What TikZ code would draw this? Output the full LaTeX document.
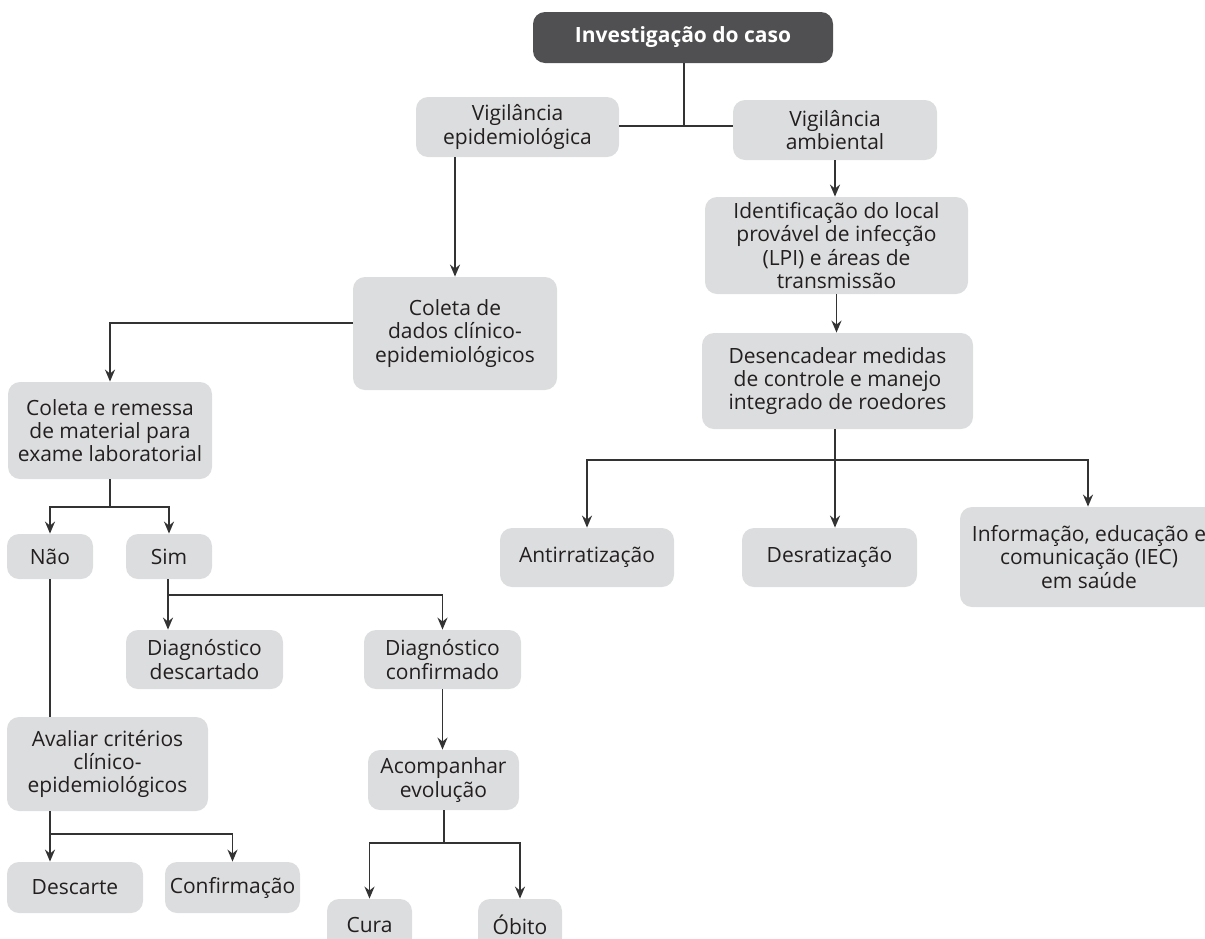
\documentclass[tikz,border=0pt]{standalone}
\usepackage{fontspec}
\setmainfont{Open Sans}
\usetikzlibrary{arrows.meta}
\definecolor{CaixaCinza}{HTML}{DCDDDE}
\definecolor{TituloCinza}{HTML}{505052}
\definecolor{LinhaCinza}{HTML}{333333}
\definecolor{TextoCinza}{HTML}{231F20}

\begin{document}
\begin{tikzpicture}[x=0.5pt,y=-0.5pt,
  caixa/.style={fill=CaixaCinza,rounded corners=6pt,align=center,inner sep=1pt,text=TextoCinza,font=\fontsize{10.5}{11.6}\selectfont},
  titulo/.style={caixa,fill=TituloCinza,text=white,font=\fontsize{10.5}{11.6}\selectfont\bfseries},
  tam/.style 2 args={minimum width=#1*0.5pt,minimum height=#2*0.5pt},
  linha/.style={line width=0.9pt,LinhaCinza},
  seta/.style={linha,-{Stealth[length=6pt,width=5pt]}}]
  \useasboundingbox (0,0) rectangle (1205,938);
  % topo e vigilancia ambiental
  \node[titulo,tam={300}{51}] (inv) at (683,37.5) {Investigação do caso};
  \node[caixa,tam={203}{60}] (vepi) at (517.5,127) {Vigilância\\epidemiológica};
  \node[caixa,tam={204}{60}] (vamb) at (835,130) {Vigilância\\ambiental};
  \node[caixa,tam={263}{97}] (ident) at (836.5,245.5) {Identificação do local\\provável de infecção\\(LPI) e áreas de\\transmissão};
  \node[caixa,tam={271}{96}] (desenc) at (837.5,381) {Desencadear medidas\\de controle e manejo\\integrado de roedores};
  \node[caixa,tam={174}{59}] (antirr) at (587,557.5) {Antirratização};
  \node[caixa,tam={175}{59}] (desrat) at (829.5,557.5) {Desratização};
  \node[caixa,tam={258}{100}] (iec) at (1089,557) {Informação, educação e\\comunicação (IEC)\\em saúde};
  % vigilancia epidemiologica
  \node[caixa,tam={204}{113}] (cdados) at (455,333.5) {Coleta de\\dados clínico-\\epidemiológicos};
  \node[caixa,tam={204}{97}] (crem) at (110,430.5) {Coleta e remessa\\de material para\\exame laboratorial};
  \node[caixa,tam={86}{45}] (nao) at (50,556.5) {Não};
  \node[caixa,tam={86}{45}] (sim) at (169,556.5) {Sim};
  \node[caixa,tam={157}{59}] (ddesc) at (204.5,659.5) {Diagnóstico\\descartado};
  \node[caixa,tam={157}{59}] (dconf) at (442.5,659.5) {Diagnóstico\\confirmado};
  \node[caixa,tam={151}{60}] (acomp) at (443.5,780) {Acompanhar\\evolução};
  \node[caixa,tam={85}{51}] (cura) at (369.5,924.5) {Cura};
  \node[caixa,tam={84}{51}] (obito) at (520,924.5) {Óbito};
  \node[caixa,tam={201}{94}] (aval) at (107.5,764) {Avaliar critérios\\clínico-\\epidemiológicos};
  \node[caixa,tam={136}{51}] (descarte) at (75,887.5) {Descarte};
  \node[caixa,tam={135}{51}] (confirm) at (232.5,887.5) {Confirmação};
  % ligacoes
  \coordinate (j0) at (684,126);
  \draw[linha] (inv.south -| j0) -- (j0);
  \draw[linha] (vepi.east |- j0) -- (vamb.west |- j0);
  \draw[seta] (cdados.north |- vepi.south) -- (cdados.north);
  \draw[seta] (vamb.south) -- (vamb.south |- ident.north);
  \draw[seta] (ident.south) -- (ident.south |- desenc.north);
  \coordinate (j1) at (835,460);
  \coordinate (j1d) at (1088,460);
  \draw[linha] (desenc.south -| j1) -- (j1);
  \draw[seta] (j1) -- (j1 |- desrat.north);
  \draw[seta] (j1) -| (antirr.north);
  \draw[seta] (j1) -- (j1d) -- (j1d |- iec.north);
  \coordinate (j2) at (110,323);
  \draw[seta] (cdados.west |- j2) -- (j2) -- (j2 |- crem.north);
  \coordinate (j3) at (110,507);
  \draw[linha] (crem.south) -- (j3);
  \draw[seta] (j3) -| (nao.north);
  \draw[seta] (j3) -| (sim.north);
  \coordinate (j4) at (168,595);
  \draw[linha] (sim.south -| j4) -- (j4);
  \draw[seta] (j4) -- (j4 |- ddesc.north);
  \draw[seta] (j4) -| (dconf.north);
  \draw[seta] (dconf.south) -- (dconf.south |- acomp.north);
  \coordinate (j5) at (444,843);
  \draw[linha] (acomp.south -| j5) -- (j5);
  \draw[seta] (j5) -| (cura.north);
  \draw[seta] (j5) -| (obito.north);
  \draw[linha] (nao.south) -- (nao.south |- aval.north);
  \coordinate (j6) at (50,834);
  \draw[linha] (aval.south -| j6) -- (j6);
  \draw[seta] (j6) -- (j6 |- descarte.north);
  \draw[seta] (j6) -| (confirm.north);
\end{tikzpicture}
\end{document}
